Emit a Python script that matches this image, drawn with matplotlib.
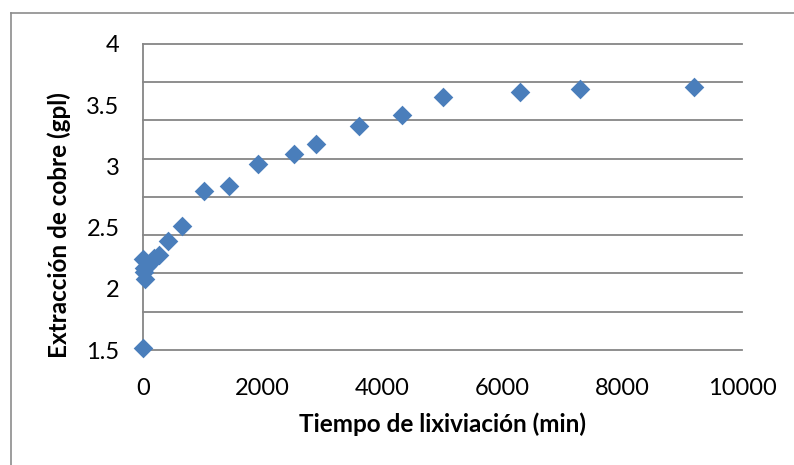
import numpy as np
import matplotlib
matplotlib.use("Agg")
import matplotlib.pyplot as plt
from matplotlib.lines import Line2D

# Data
tiempo = [0, 0, 10, 20, 30, 60, 120, 180, 260, 420, 650, 1020, 1440, 1920,
          2520, 2880, 3600, 4320, 5000, 6300, 7300, 9200]
cobre = [1.52, 2.24, 2.17, 2.14, 2.08, 2.19, 2.21, 2.25, 2.28, 2.39, 2.51,
         2.80, 2.84, 3.02, 3.10, 3.18, 3.33, 3.42, 3.57, 3.61, 3.63, 3.65]
x_ticks = [0, 2000, 4000, 6000, 8000, 10000]
y_ticks = [1.5, 2, 2.5, 3, 3.5, 4]
y_tick_labels = ["1.5", "2", "2.5", "3", "3.5", "4"]
x_title = "Tiempo de lixiviación (min)"
y_title = "Extracción de cobre (gpl)"

plt.rcParams['font.family'] = ['Lato', 'DejaVu Sans']

W, H = 794, 465
fig = plt.figure(figsize=(W / 100, H / 100), dpi=100)
fig.patch.set_facecolor('white')

# axes in pixel coordinates
left, right, top, bottom = 143, 742, 44, 350
ax = fig.add_axes([left / W, (H - bottom) / H, (right - left) / W, (bottom - top) / H])

grid_c = '#868686'
ax.set_xlim(0, 10000)
ax.set_ylim(1.5, 4)

ax.set_xticks(x_ticks)
ax.set_xticklabels([str(v) for v in x_ticks])
ax.set_yticks(y_ticks)
ax.set_yticklabels(y_tick_labels)
ax.yaxis.remove_overlapping_locs = False
ax.set_yticks(np.linspace(1.5, 4, 9), minor=True)
ax.grid(False)
ax.yaxis.grid(True, which='minor', color=grid_c, linewidth=1.3, clip_on=False)
ax.set_axisbelow(True)

ax.tick_params(axis='both', which='both', length=0)
ax.tick_params(axis='y', pad=17, labelsize=17)
ax.tick_params(axis='x', pad=20, labelsize=17)

for s in ['top', 'right', 'bottom']:
    ax.spines[s].set_visible(False)
ax.spines['left'].set_color(grid_c)
ax.spines['left'].set_linewidth(1.3)

ax.scatter(tiempo, cobre, marker='D', s=100, color='#4a7ebb', linewidths=0,
           zorder=3, clip_on=False)

ax.set_xlabel(x_title, fontsize=17.5, fontweight='bold', labelpad=10)
ax.set_ylabel(y_title, fontsize=17.5, fontweight='bold', va='center')
ax.yaxis.set_label_coords((59 - left) / (right - left), (bottom - 225) / (bottom - top))

# outer chart frame (partially cropped in the reference)
frame_c = '#8c8c8c'
fig.add_artist(Line2D([11 / W, 11 / W], [0, 1 - 13 / H], color=frame_c, linewidth=1.2))
fig.add_artist(Line2D([11 / W, 1], [1 - 13 / H, 1 - 13 / H], color=frame_c, linewidth=1.2))

fig.savefig('out.png', dpi=100, facecolor='white')
